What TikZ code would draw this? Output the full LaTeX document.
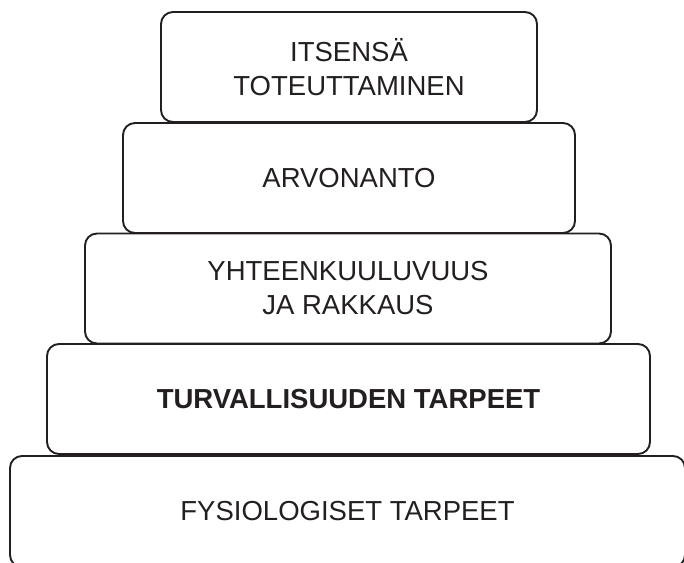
\documentclass[tikz,border=0pt]{standalone}
\usepackage{fontspec}
\setmainfont{Liberation Sans}
\definecolor{ink}{HTML}{231F20}
\begin{document}
\begin{tikzpicture}[x=1bp,y=-1bp,
  tier/.style={draw=ink, line width=1.9bp, rounded corners=12bp, fill=white,
    inner sep=0pt, align=center, text=ink,
    font=\fontsize{27.5bp}{34bp}\selectfont},
]
\useasboundingbox (0,0) rectangle (684,563);
\clip (0,0) rectangle (684,563);
\node[tier, minimum width=675bp, minimum height=111bp] (b5) at (347.5,511.5) {FYSIOLOGISET TARPEET};
\node[tier, minimum width=603bp, minimum height=110bp, font=\fontsize{27.5bp}{34bp}\selectfont\bfseries] (b4) at (348.5,399) {TURVALLISUUDEN TARPEET};
\node[tier, minimum width=526bp, minimum height=110bp] (b3) at (348,288.5) {YHTEENKUULUVUUS\\JA RAKKAUS};
\node[tier, minimum width=452bp, minimum height=110bp] (b2) at (349,178) {ARVONANTO};
\node[tier, minimum width=376bp, minimum height=110bp] (b1) at (349,67) {ITSENSÄ\\TOTEUTTAMINEN};
\end{tikzpicture}
\end{document}
